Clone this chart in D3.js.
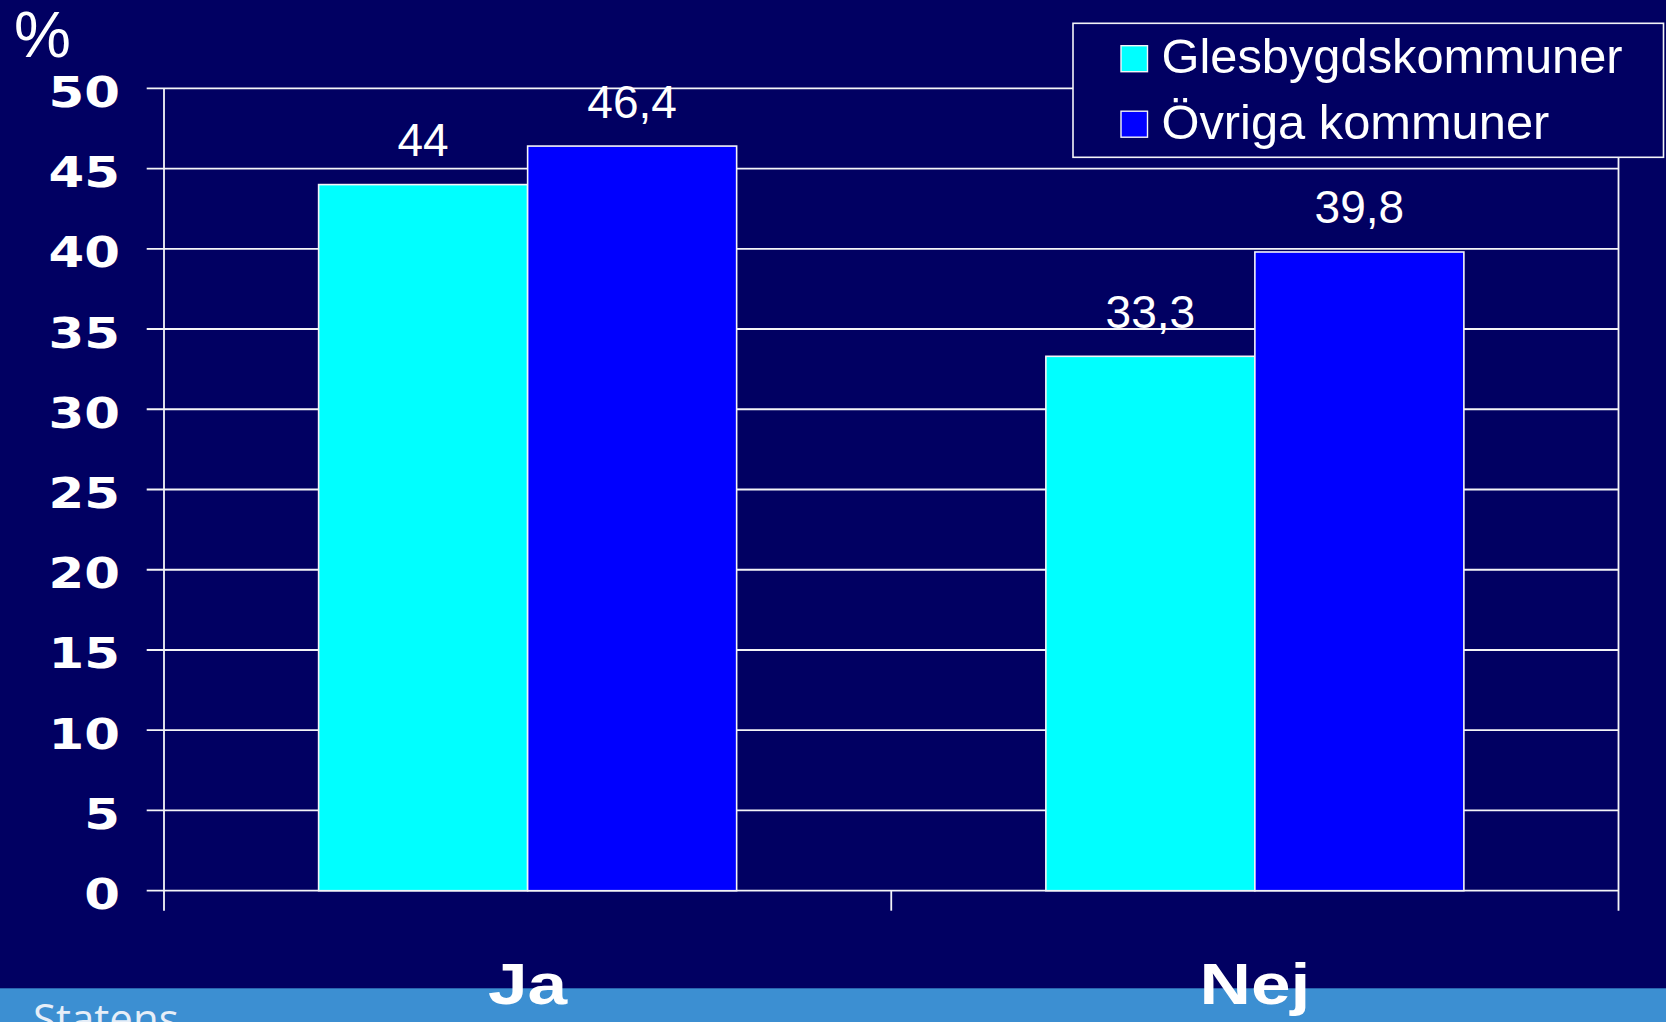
<!DOCTYPE html>
<html>
<head>
<meta charset="utf-8">
<script src="https://cdn.jsdelivr.net/npm/d3@7"></script>
<style>
  html, body { margin: 0; padding: 0; background: #010062; }
  svg { display: block; }
</style>
</head>
<body>
<svg id="chart" width="1666" height="1022"></svg>
<script>
// chart data
var categories = ["Ja", "Nej"];
var seriesNames = ["Glesbygdskommuner", "Övriga kommuner"];
var seriesColors = ["#00ffff", "#0000ff"];
var glesbygd = [44, 33.3];
var ovriga = [46.4, 39.8];
var yTicks = [0, 5, 10, 15, 20, 25, 30, 35, 40, 45, 50];

var W = 1666, H = 1022;
var bg = "#010062";
var x0 = 164, x1 = 1618.5, yTop = 88.3, yBot = 890.7;

var svg = d3.select("#chart");
svg.append("rect").attr("width", W).attr("height", H).attr("fill", bg);

var rows = categories.map(function (c, i) {
  return { cat: c, values: [glesbygd[i], ovriga[i]] };
});

var x = d3.scaleBand().domain(categories).range([x0, x1])
  .paddingInner(0.4252).paddingOuter(0.2126);
var xs = d3.scaleBand().domain(d3.range(seriesNames.length)).range([0, x.bandwidth()]);
var y = d3.scaleLinear().domain([0, 50]).range([yBot, yTop]);

var fmt = function (v) { return String(v).replace(".", ","); };

// grid lines + tick marks
svg.append("g").selectAll("line")
  .data(yTicks)
  .enter().append("line")
  .attr("x1", x0 - 17.3).attr("x2", x1)
  .attr("y1", function (d) { return y(d); })
  .attr("y2", function (d) { return y(d); })
  .attr("stroke", "#f4f4f8").attr("stroke-width", 1.8);

// y axis and right frame line
svg.append("line").attr("x1", x0).attr("x2", x0).attr("y1", yTop).attr("y2", yBot + 20)
  .attr("stroke", "#f4f4f8").attr("stroke-width", 1.8);
svg.append("line").attr("x1", x1).attr("x2", x1).attr("y1", yTop).attr("y2", yBot + 20)
  .attr("stroke", "#f4f4f8").attr("stroke-width", 1.8);

// category separator below the axis
svg.append("line").attr("x1", (x0 + x1) / 2).attr("x2", (x0 + x1) / 2)
  .attr("y1", yBot).attr("y2", yBot + 20)
  .attr("stroke", "#f4f4f8").attr("stroke-width", 1.8);

// y tick labels through d3 axis
var yAxis = svg.append("g")
  .attr("transform", "translate(" + x0 + ",0)")
  .call(d3.axisLeft(y).tickValues(yTicks).tickSize(0));
yAxis.select(".domain").remove();
yAxis.selectAll("text")
  .attr("x", 0).attr("dy", null).attr("y", 18)
  .attr("text-anchor", "end")
  .attr("transform", "translate(-44,0) scale(1.18,1)")
  .attr("fill", "#fff")
  .style("font-family", "'DejaVu Sans', sans-serif")
  .style("font-weight", "bold")
  .style("font-size", "43.5px");

// bars
var groups = svg.append("g").selectAll("g")
  .data(rows)
  .enter().append("g")
  .attr("transform", function (d) { return "translate(" + x(d.cat) + ",0)"; });

groups.selectAll("rect")
  .data(function (d) { return d.values; })
  .enter().append("rect")
  .attr("x", function (d, i) { return xs(i); })
  .attr("width", xs.bandwidth())
  .attr("y", function (d) { return y(d); })
  .attr("height", function (d) { return yBot - y(d); })
  .attr("fill", function (d, i) { return seriesColors[i]; })
  .attr("stroke", "#f4f4f8").attr("stroke-width", 1.6);

groups.selectAll("text")
  .data(function (d) { return d.values; })
  .enter().append("text")
  .attr("x", function (d, i) { return xs(i) + xs.bandwidth() / 2; })
  .attr("y", function (d) { return y(d) - 28.5; })
  .attr("text-anchor", "middle")
  .attr("fill", "#fff")
  .style("font-family", "'Liberation Sans', Arial, sans-serif")
  .style("font-size", "46px")
  .text(fmt);

// bottom band (the footer text is clipped by the page edge, as in the source)
svg.append("rect").attr("x", 0).attr("y", 988.3).attr("width", W).attr("height", H - 988.3)
  .attr("fill", "#3c8fd2");
svg.append("text").attr("x", 33).attr("y", 1034)
  .attr("fill", "#e6eef8")
  .style("font-family", "'Open Sans', sans-serif")
  .style("font-size", "42px")
  .text("Statens");

// category labels
svg.append("g").selectAll("text")
  .data(categories)
  .enter().append("text")
  .attr("text-anchor", "middle")
  .attr("transform", function (d) {
    return "translate(" + (x(d) + x.bandwidth() / 2) + ",1004) scale(1.25,1)";
  })
  .attr("fill", "#fff")
  .style("font-family", "'Liberation Sans', Arial, sans-serif")
  .style("font-weight", "bold")
  .style("font-size", "57px")
  .text(function (d) { return d; });

// percent label
svg.append("text").attr("x", 14).attr("y", 56.5)
  .attr("fill", "#fff")
  .style("font-family", "'Liberation Sans', Arial, sans-serif")
  .style("font-size", "64px")
  .text("%");

// legend
var legend = svg.append("g");
legend.append("rect")
  .attr("x", 1073).attr("y", 23.3).attr("width", 590.5).attr("height", 134)
  .attr("fill", bg).attr("stroke", "#f4f4f8").attr("stroke-width", 1.6);
var items = legend.selectAll("g.item")
  .data(seriesNames)
  .enter().append("g").attr("class", "item")
  .attr("transform", function (d, i) { return "translate(0," + (i * 65.5) + ")"; });
items.append("rect")
  .attr("x", 1121).attr("y", 45.7).attr("width", 26.5).attr("height", 26)
  .attr("fill", function (d, i) { return seriesColors[i]; })
  .attr("stroke", "#f4f4f8").attr("stroke-width", 1.4);
items.append("text")
  .attr("x", 1161.5).attr("y", 73.3)
  .attr("fill", "#fff")
  .style("font-family", "'Liberation Sans', Arial, sans-serif")
  .style("font-size", "48.8px")
  .text(function (d) { return d; });
</script>
</body>
</html>
